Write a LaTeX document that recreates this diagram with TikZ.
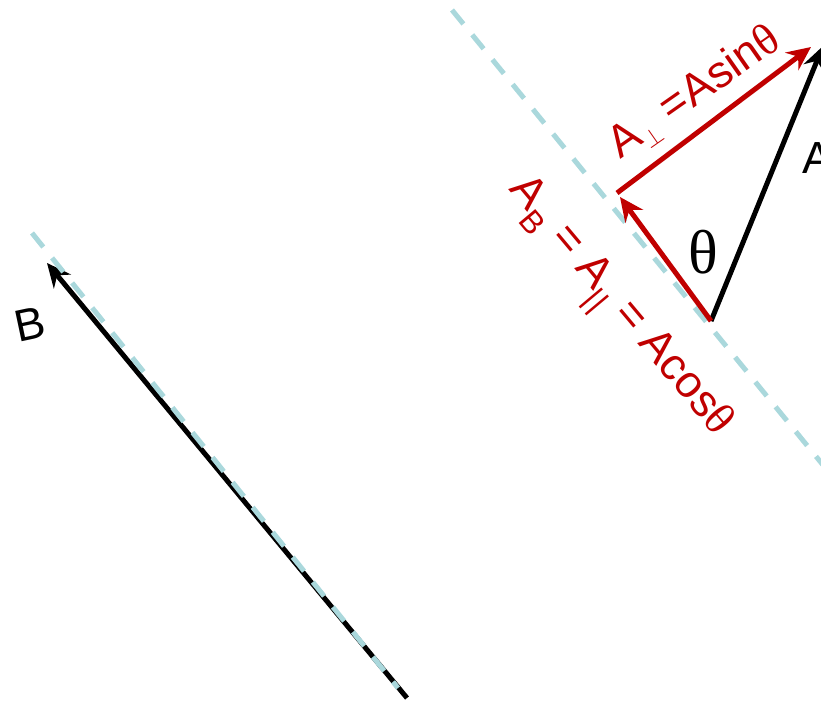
\documentclass[tikz,border=0pt]{standalone}
\usepackage{fontspec}
\setmainfont{Liberation Sans}
\newfontfamily\serifth{Liberation Serif}
\usetikzlibrary{arrows.meta}
\definecolor{vred}{RGB}{192,0,0}
\definecolor{axiscyan}{RGB}{170,216,220}
\tikzset{
  axisline/.style={axiscyan, line width=5pt, dash pattern=on 18pt off 14pt},
  vec/.style={line width=5pt, -{Stealth[length=24pt,width=22pt,inset=8pt]}},
  lbl/.style={font=\fontsize{45}{48}\selectfont, inner sep=0pt},
}
\newcommand{\thsym}{{\serifth θ}}
\begin{document}
\begin{tikzpicture}[x=1pt,y=-1pt]
\useasboundingbox (0,0) rectangle (821,703);
\clip (0,0) rectangle (821,703);
% left: vector B on its axis
\coordinate (Btail) at (407,698);
\coordinate (Bhead) at (47,263);
\coordinate (M1) at (32,233);
\coordinate (M2) at (398,688);
\draw[vec, black] (Btail) -- (Bhead);
\draw[axisline] (M1) -- (M2);
\node[lbl, rotate=12] (Blab) at (30,324) {B};
% right: axis through origin of A
\coordinate (L1) at (452,10);
\coordinate (L2) at (823,465);
\draw[axisline] (L1) -- (L2);
\coordinate (O) at (711,321);
\coordinate (Ahead) at (823,46);
\coordinate (Ppar) at (620,197);
\coordinate (Pstart) at (617,193);
\coordinate (Pend) at (811,47);
\draw[vec, black] (O) -- (Ahead);
\draw[vec, vred] (O) -- (Ppar);
\draw[vec, vred] (Pstart) -- (Pend);
\node[lbl] (Alab) at (817,158) {A};
\node[inner sep=0pt, font=\fontsize{62}{66}\selectfont] (theta) at (703,252) {\thsym};
\node[lbl, vred, rotate=35] (perp) at (695,93) {A\textsubscript{$\perp$} =Asin\thsym};
\node[lbl, vred, rotate=-50] (para) at (616,310) {A\textsubscript{B} = A\textsubscript{||} = Acos\thsym};
\end{tikzpicture}
\end{document}
